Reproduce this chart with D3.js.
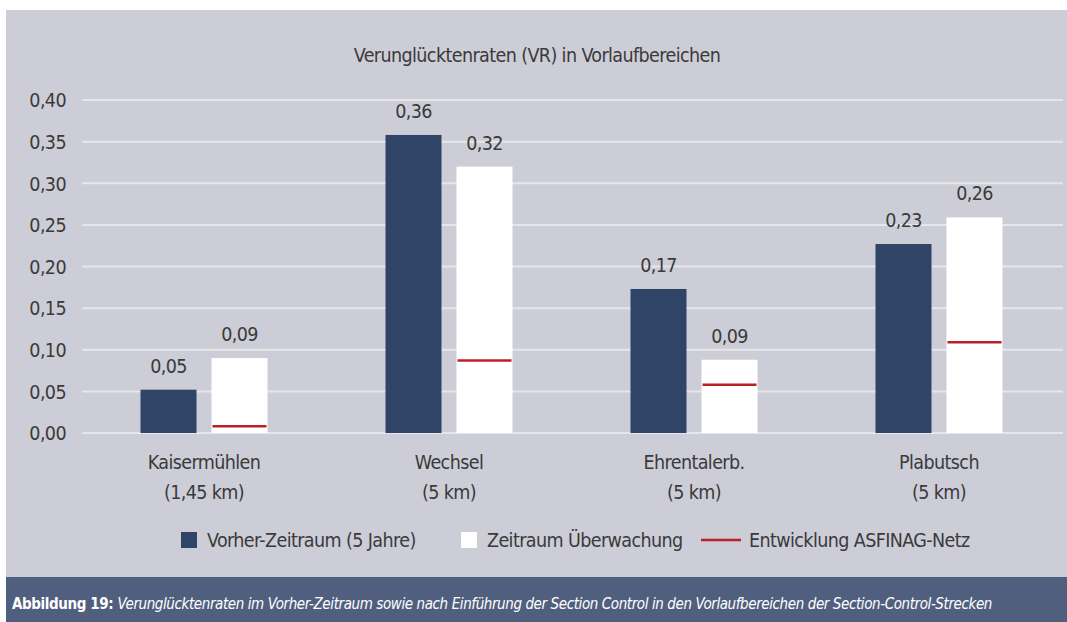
<!DOCTYPE html>
<html>
<head>
<meta charset="utf-8">
<script src="https://cdn.jsdelivr.net/npm/d3@7"></script>
<style>
  body { margin: 0; background: #fff; }
  svg { display: block; }
  text { font-family: "DejaVu Sans Condensed", "Liberation Sans Narrow", sans-serif; letter-spacing: -0.6px; }
</style>
</head>
<body>
<script>
// data
const categories = ['Kaisermühlen', 'Wechsel', 'Ehrentalerb.', 'Plabutsch'];
const subLabels = ['(1,45 km)', '(5 km)', '(5 km)', '(5 km)'];
const vorher = [0.052, 0.358, 0.173, 0.227];
const ueberwachung = [0.090, 0.320, 0.088, 0.259];
const asfinag = [0.008, 0.087, 0.058, 0.109];
const yTicks = [0, 0.05, 0.10, 0.15, 0.20, 0.25, 0.30, 0.35, 0.40];

const W = 1067, H = 622;
const FS = 19.5;
const fmt = v => d3.format('.2f')(v).replace('.', ',');

var svg = d3.select('body')
  .append('svg')
  .attr('width', W)
  .attr('height', H);

// panel + caption band
svg.append('rect').attr('x', 6).attr('y', 10).attr('width', W - 6).attr('height', 567).attr('fill', '#cdcdd7');
svg.append('rect').attr('x', 6).attr('y', 577).attr('width', W - 6).attr('height', H - 577).attr('fill', '#515f7e');

var x = d3.scaleBand()
  .domain(categories)
  .range([82, 1062]);

var y = d3.scaleLinear()
  .domain([0, 0.40])
  .range([433, 100]);

// gridlines
svg.selectAll('line.grid')
  .data(yTicks)
  .enter()
  .append('line')
  .attr('class', 'grid')
  .attr('x1', 82)
  .attr('x2', 1063)
  .attr('y1', d => y(d))
  .attr('y2', d => y(d))
  .attr('stroke', '#e6e6ea')
  .attr('stroke-width', 2);

// y axis labels
var yAxis = svg.append('g')
  .attr('transform', 'translate(66,0)')
  .call(d3.axisLeft(y).tickValues(yTicks).tickFormat(fmt).tickSize(0).tickPadding(0));
yAxis.select('.domain').remove();
yAxis.selectAll('text')
  .attr('font-size', FS)
  .attr('font-family', null)
  .attr('fill', '#3a3a3a')
  .attr('dy', '0.35em');

var bw = 56, gap = 15;
var center = c => x(c) + x.bandwidth() / 2 - 0.5;

// bars
svg.selectAll('rect.vorher')
  .data(vorher)
  .enter()
  .append('rect')
  .attr('class', 'vorher')
  .attr('x', (d, i) => center(categories[i]) - gap / 2 - bw)
  .attr('y', d => y(d))
  .attr('width', bw)
  .attr('height', d => y(0) - y(d))
  .attr('fill', '#2f4466');

svg.selectAll('rect.ueber')
  .data(ueberwachung)
  .enter()
  .append('rect')
  .attr('class', 'ueber')
  .attr('x', (d, i) => center(categories[i]) + gap / 2)
  .attr('y', d => y(d))
  .attr('width', bw)
  .attr('height', d => y(0) - y(d))
  .attr('fill', '#ffffff');

// red marker lines
svg.selectAll('line.asf')
  .data(asfinag)
  .enter()
  .append('line')
  .attr('class', 'asf')
  .attr('x1', (d, i) => center(categories[i]) + gap / 2 + 1)
  .attr('x2', (d, i) => center(categories[i]) + gap / 2 + bw - 1)
  .attr('y1', d => y(d))
  .attr('y2', d => y(d))
  .attr('stroke', '#bd1f26')
  .attr('stroke-width', 2.5);

// value labels
svg.selectAll('text.lv')
  .data(vorher)
  .enter()
  .append('text')
  .attr('class', 'lv')
  .attr('x', (d, i) => center(categories[i]) - gap / 2 - bw / 2)
  .attr('y', d => y(d) - 17)
  .attr('text-anchor', 'middle')
  .attr('font-size', FS)
  .attr('fill', '#3a3a3a')
  .text(d => fmt(d));

svg.selectAll('text.lu')
  .data(ueberwachung)
  .enter()
  .append('text')
  .attr('class', 'lu')
  .attr('x', (d, i) => center(categories[i]) + gap / 2 + bw / 2)
  .attr('y', d => y(d) - 17)
  .attr('text-anchor', 'middle')
  .attr('font-size', FS)
  .attr('fill', '#3a3a3a')
  .text(d => fmt(d));

// category labels
var cat = svg.selectAll('text.cat')
  .data(categories)
  .enter()
  .append('text')
  .attr('class', 'cat')
  .attr('text-anchor', 'middle')
  .attr('font-size', FS)
  .attr('fill', '#3a3a3a');
cat.append('tspan').attr('x', d => center(d)).attr('y', 469).text(d => d);
cat.append('tspan').attr('x', d => center(d)).attr('y', 499).text((d, i) => subLabels[i]);

// title
svg.append('text')
  .attr('x', 537)
  .attr('y', 62)
  .attr('text-anchor', 'middle')
  .attr('font-size', FS)
  .attr('fill', '#3a3a3a')
  .text('Verunglücktenraten (VR) in Vorlaufbereichen');

// legend
var lg = svg.append('g');
lg.append('rect').attr('x', 181).attr('y', 532).attr('width', 16).attr('height', 16).attr('fill', '#2f4466');
lg.append('text').attr('x', 207).attr('y', 547).attr('font-size', FS).attr('fill', '#3a3a3a').text('Vorher-Zeitraum (5 Jahre)');
lg.append('rect').attr('x', 461).attr('y', 532).attr('width', 16).attr('height', 16).attr('fill', '#ffffff');
lg.append('text').attr('x', 487).attr('y', 547).attr('font-size', FS).attr('fill', '#3a3a3a').text('Zeitraum Überwachung');
lg.append('line').attr('x1', 701).attr('x2', 741).attr('y1', 540).attr('y2', 540).attr('stroke', '#bd1f26').attr('stroke-width', 2.5);
lg.append('text').attr('x', 749).attr('y', 547).attr('font-size', FS).attr('fill', '#3a3a3a').text('Entwicklung ASFINAG-Netz');

// caption
var cap = svg.append('text')
  .attr('x', 12)
  .attr('y', 609)
  .attr('font-size', 15)
  .attr('fill', '#ffffff')
  .style('letter-spacing', '-0.4px');
cap.append('tspan').attr('font-weight', 'bold').text('Abbildung 19: ');
cap.append('tspan').attr('font-style', 'italic')
  .text('Verunglücktenraten im Vorher-Zeitraum sowie nach Einführung der Section Control in den Vorlaufbereichen der Section-Control-Strecken');
</script>
</body>
</html>
